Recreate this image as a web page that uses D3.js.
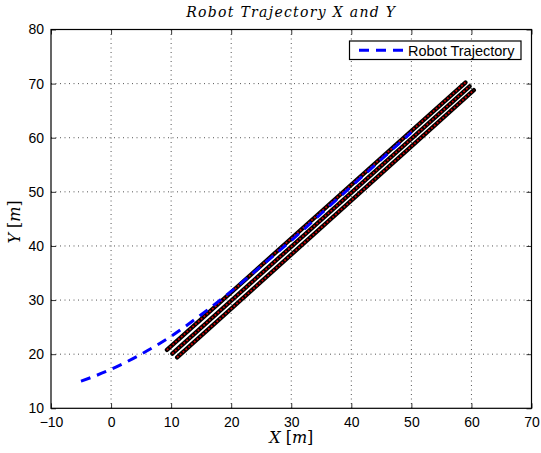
<!DOCTYPE html>
<html>
<head>
<meta charset="utf-8">
<script src="https://cdn.jsdelivr.net/npm/d3@7"></script>
<style>
  body { margin: 0; background: #fff; }
  svg { display: block; }
</style>
</head>
<body>
<svg id="chart" width="541" height="453"></svg>
<script>
// ---- data ----
const xTicks = [-10, 0, 10, 20, 30, 40, 50, 60, 70];
const yTicks = [10, 20, 30, 40, 50, 60, 70, 80];

// Robot trajectory (blue dashed)
const trajX = [-5, 0, 5, 10, 15, 20, 25, 30, 35, 40, 45, 50];
const trajY = [15, 17.2, 20, 23.3, 27.3, 31.6, 36.3, 41, 46, 51, 56, 61];

// Three reference lines (black with red markers): start and end points
const lineUpperX = [9.3, 59.0];
const lineUpperY = [20.8, 70.2];
const lineMidX = [10.2, 59.7];
const lineMidY = [20.1, 69.5];
const lineLowX = [11.0, 60.4];
const lineLowY = [19.4, 68.8];

const titleText = "Robot Trajectory X and Y";
const legendLabel = "Robot Trajectory";

// ---- layout ----
const svg = d3.select("#chart");
const m = { left: 51, right: 531.5, top: 29.5, bottom: 408.3 };
const x = d3.scaleLinear().domain([-10, 70]).range([m.left, m.right]);
const y = d3.scaleLinear().domain([10, 80]).range([m.bottom, m.top]);

const W = m.right - m.left, H = m.bottom - m.top;

// grid
const grid = svg.append("g");
xTicks.slice(1, -1).forEach(t => {
  grid.append("line").attr("x1", x(t)).attr("x2", x(t)).attr("y1", m.top).attr("y2", m.bottom)
    .attr("stroke", "#555").attr("stroke-width", 1).attr("stroke-dasharray", "1,3.5");
});
yTicks.slice(1, -1).forEach(t => {
  grid.append("line").attr("x1", m.left).attr("x2", m.right).attr("y1", y(t)).attr("y2", y(t))
    .attr("stroke", "#555").attr("stroke-width", 1).attr("stroke-dasharray", "1,3.5");
});

// axes with MATLAB-like inward ticks
const font = "'Liberation Sans', Arial, Helvetica, sans-serif";
const fmt = d => d < 0 ? "\u2212" + Math.abs(d) : String(d);

const xAxisB = d3.axisBottom(x).tickValues(xTicks).tickSizeInner(-5).tickSizeOuter(0).tickPadding(9).tickFormat(fmt);
const xAxisT = d3.axisTop(x).tickValues(xTicks).tickSizeInner(-5).tickSizeOuter(0).tickFormat("");
const yAxisL = d3.axisLeft(y).tickValues(yTicks).tickSizeInner(-5).tickSizeOuter(0).tickPadding(7).tickFormat(fmt);
const yAxisR = d3.axisRight(y).tickValues(yTicks).tickSizeInner(-5).tickSizeOuter(0).tickFormat("");

function style(g) {
  g.select(".domain").remove();
  g.selectAll(".tick line").attr("stroke", "#000").attr("stroke-width", 0.8);
  g.selectAll("text").attr("font-family", font).attr("font-size", 14).attr("fill", "#000");
}
svg.append("g").attr("transform", `translate(0,${m.bottom})`).call(xAxisB).call(style);
svg.append("g").attr("transform", `translate(0,${m.top})`).call(xAxisT).call(style);
svg.append("g").attr("transform", `translate(${m.left},0)`).call(yAxisL).call(style);
svg.append("g").attr("transform", `translate(${m.right},0)`).call(yAxisR).call(style);

// data lines
const line = d3.line().x(d => x(d[0])).y(d => y(d[1]));
const refLines = [
  d3.zip(lineUpperX, lineUpperY),
  d3.zip(lineMidX, lineMidY),
  d3.zip(lineLowX, lineLowY)
];
const plot = svg.append("g");
refLines.forEach(pts => {
  plot.append("path").attr("d", line(pts)).attr("fill", "none")
    .attr("stroke", "#000").attr("stroke-width", 4.3).attr("stroke-linecap", "round");
});
refLines.forEach(pts => {
  plot.append("path").attr("d", line(pts)).attr("fill", "none")
    .attr("stroke", "#d00000").attr("stroke-width", 1.8).attr("stroke-dasharray", "1.8,2");
});
plot.append("path").attr("d", d3.line().curve(d3.curveMonotoneX).x(d => x(d[0])).y(d => y(d[1]))(d3.zip(trajX, trajY)))
  .attr("fill", "none").attr("stroke", "#0000ff").attr("stroke-width", 3)
  .attr("stroke-dasharray", "10,7");

// frame
svg.append("rect").attr("x", m.left).attr("y", m.top).attr("width", W).attr("height", H)
  .attr("fill", "none").attr("stroke", "#000").attr("stroke-width", 1.2);

// legend
const lg = svg.append("g");
lg.append("rect").attr("x", 349.5).attr("y", 41).attr("width", 171.5).attr("height", 18.5)
  .attr("fill", "#fff").attr("stroke", "#000").attr("stroke-width", 1.2);
lg.append("line").attr("x1", 359).attr("x2", 403).attr("y1", 50.3).attr("y2", 50.3)
  .attr("stroke", "#0000ff").attr("stroke-width", 3).attr("stroke-dasharray", "10,7");
lg.append("text").attr("x", 408).attr("y", 55.5).attr("font-family", font).attr("font-size", 14.5)
  .attr("fill", "#000").text(legendLabel);

// title
const serif = "'DejaVu Serif', 'Liberation Serif', serif";
svg.append("text").attr("x", (m.left + m.right) / 2).attr("y", 17).attr("text-anchor", "middle")
  .attr("font-family", serif).attr("font-style", "italic").attr("font-size", 14).attr("fill", "#000")
  .attr("letter-spacing", 1.3)
  .text(titleText);

// axis labels
const xl = svg.append("text").attr("x", (m.left + m.right) / 2).attr("y", 443).attr("text-anchor", "middle")
  .attr("font-family", serif).attr("font-size", 16).attr("fill", "#000");
xl.append("tspan").attr("font-style", "italic").text("X");
xl.append("tspan").text(" [");
xl.append("tspan").attr("font-style", "italic").text("m");
xl.append("tspan").text("]");

const yl = svg.append("text").attr("transform", `translate(20,${(m.top + m.bottom) / 2 + 3}) rotate(-90)`)
  .attr("text-anchor", "middle").attr("font-family", serif).attr("font-size", 16).attr("fill", "#000");
yl.append("tspan").attr("font-style", "italic").text("Y");
yl.append("tspan").text(" [");
yl.append("tspan").attr("font-style", "italic").text("m");
yl.append("tspan").text("]");
</script>
</body>
</html>
